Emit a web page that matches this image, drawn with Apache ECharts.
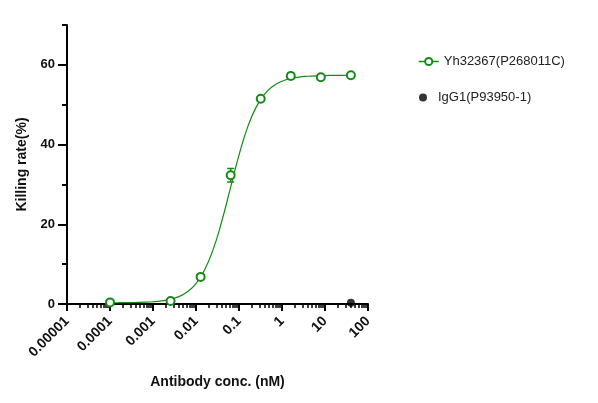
<!DOCTYPE html>
<html>
<head>
<meta charset="utf-8">
<script src="https://cdn.jsdelivr.net/npm/echarts@6/dist/echarts.min.js"></script>
<style>
  html, body { margin: 0; padding: 0; background: #fff; }
  #chart { width: 598px; height: 403px; }
</style>
</head>
<body>
<div id="chart"></div>
<script>
// concentrations (nM) and killing rate (%)
const concs = [0.0001, 0.00256, 0.0128, 0.064, 0.32, 1.6, 8, 40]
const killing = [0.4, 0.75, 6.8, 32.3, 51.5, 57.2, 56.9, 57.4]
const errs = [0, 0, 0, 1.7, 0, 0.8, 0, 0]

// IgG1 control
const iggConcs = [40]
const iggKilling = [0.3]

// fitted curve
const fitConcs = [0.0001, 0.000158, 0.000251, 0.000398, 0.000631, 0.001, 0.00158, 0.00251,
  0.00398, 0.00631, 0.01, 0.0158, 0.0251, 0.0398, 0.0631, 0.1, 0.158, 0.251, 0.398, 0.631,
  1, 1.58, 2.51, 3.98, 6.31, 10, 15.8, 25.1, 40]
const fitKilling = [0.31, 0.32, 0.34, 0.38, 0.45, 0.56, 0.78, 1.17, 1.86, 3.07, 5.14, 8.54,
  13.71, 20.77, 29.08, 37.37, 44.32, 49.39, 52.7, 54.72, 55.89, 56.56, 56.94, 57.14, 57.26,
  57.32, 57.36, 57.38, 57.39]

const xTicks = [0.00001, 0.0001, 0.001, 0.01, 0.1, 1, 10, 100]
const xTickLabels = ['0.00001', '0.0001', '0.001', '0.01', '0.1', '1', '10', '100']
const yTicks = [0, 20, 40, 60]

const green = '#168a16'
const font = 'Liberation Sans, Arial, sans-serif'

// log minor ticks 2..9 in every decade
let xMinor = []
for (let d = -5; d < 2; d++) {
  for (let m = 2; m <= 9; m++) {
    xMinor.push(Number((m * Math.pow(10, d)).toPrecision(3)))
  }
}

const chart = echarts.init(document.getElementById('chart'))

const option = {
  animation: false,
  backgroundColor: '#fff',
  grid: { left: 67, right: 230, top: 25, bottom: 99 },
  legend: [
    {
      orient: 'vertical',
      left: 413,
      top: 50,
      itemWidth: 20,
      itemHeight: 9,
      textStyle: { fontSize: 13, color: '#222', fontFamily: font },
      data: [
        {
          name: 'Yh32367(P268011C)',
          lineStyle: { color: green, width: 1.5, opacity: 1 },
        },
      ],
    },
    {
      orient: 'vertical',
      left: 414,
      top: 86,
      itemWidth: 20,
      itemHeight: 8,
      textStyle: { fontSize: 13, color: '#222', fontFamily: font },
      data: [{ name: 'IgG1(P93950-1)', icon: 'circle', itemStyle: { color: '#000' } }],
    },
  ],
  xAxis: [
    {
      type: 'log',
      logBase: 10,
      min: 0.00001,
      max: 100,
      splitNumber: 7,
      position: 'bottom',
      name: 'Antibody conc. (nM)',
      nameLocation: 'middle',
      nameGap: 71,
      nameTextStyle: { fontSize: 14, fontWeight: 'bold', color: '#111', fontFamily: font },
      axisLine: { lineStyle: { color: '#000', width: 2 } },
      axisTick: { length: 7, lineStyle: { width: 2, color: '#000' }, customValues: xTicks },
      axisLabel: {
        rotate: 45,
        margin: 15,
        fontSize: 14,
        fontWeight: 'bold',
        color: '#111',
        fontFamily: font,
        customValues: xTicks,
        formatter: (v) => xTickLabels[Math.round(Math.log10(v)) + 5],
      },
      splitLine: { show: false },
    },
    {
      type: 'log',
      logBase: 10,
      min: 0.00001,
      max: 100,
      position: 'bottom',
      axisLine: { show: false },
      axisTick: { length: 4, lineStyle: { width: 1.5, color: '#000' }, customValues: xMinor },
      axisLabel: { show: false },
      splitLine: { show: false },
    },
  ],
  yAxis: [
    {
      type: 'value',
      min: 0,
      max: 70,
      interval: 10,
      position: 'left',
      axisLine: { show: true, lineStyle: { color: '#000', width: 2 } },
      axisTick: { show: true, length: 5, lineStyle: { width: 2, color: '#000' } },
      axisLabel: { show: false },
      splitLine: { show: false },
    },
    {
      type: 'value',
      min: 0,
      max: 70,
      interval: 10,
      position: 'left',
      offset: 0,
      name: 'Killing rate(%)',
      nameLocation: 'middle',
      nameGap: 29,
      nameTextStyle: { fontSize: 14, fontWeight: 'bold', color: '#111', fontFamily: font },
      axisLine: { show: false },
      axisTick: { show: true, length: 9, lineStyle: { width: 2, color: '#000' }, customValues: yTicks },
      axisLabel: {
        fontSize: 13,
        fontWeight: 'bold',
        color: '#111',
        fontFamily: font,
        margin: 12,
        customValues: yTicks,
      },
      splitLine: { show: false },
    },
  ],
  series: [
    {
      name: 'fit',
      type: 'line',
      xAxisIndex: 0,
      yAxisIndex: 0,
      smooth: true,
      symbol: 'none',
      lineStyle: { color: green, width: 1.2 },
      data: fitConcs.map((c, i) => [c, fitKilling[i]]),
      z: 2,
    },
    {
      name: 'errbar',
      type: 'custom',
      xAxisIndex: 0,
      yAxisIndex: 0,
      data: concs.map((c, i) => [c, killing[i] - errs[i], killing[i] + errs[i]]),
      renderItem: (params, api) => {
        let lo = api.coord([api.value(0), api.value(1)])
        let hi = api.coord([api.value(0), api.value(2)])
        let w = 3.5
        return {
          type: 'group',
          children: [
            { type: 'line', shape: { x1: lo[0], y1: lo[1], x2: hi[0], y2: hi[1] }, style: { stroke: green, lineWidth: 1.5 } },
            { type: 'line', shape: { x1: lo[0] - w, y1: lo[1], x2: lo[0] + w, y2: lo[1] }, style: { stroke: green, lineWidth: 1.5 } },
            { type: 'line', shape: { x1: hi[0] - w, y1: hi[1], x2: hi[0] + w, y2: hi[1] }, style: { stroke: green, lineWidth: 1.5 } },
          ],
        }
      },
      z: 3,
    },
    {
      name: 'Yh32367(P268011C)',
      type: 'line',
      xAxisIndex: 0,
      yAxisIndex: 0,
      symbol: 'circle',
      symbolSize: 8,
      color: green,
      itemStyle: { color: '#fff', borderColor: green, borderWidth: 2 },
      lineStyle: { width: 0, opacity: 0 },
      data: concs.map((c, i) => [c, killing[i]]),
      z: 4,
    },
    {
      name: 'IgG1(P93950-1)',
      type: 'scatter',
      xAxisIndex: 0,
      yAxisIndex: 0,
      symbol: 'circle',
      symbolSize: 8,
      itemStyle: { color: '#000' },
      data: iggConcs.map((c, i) => [c, iggKilling[i]]),
      z: 5,
    },
  ],
}

chart.setOption(option)
</script>
</body>
</html>
